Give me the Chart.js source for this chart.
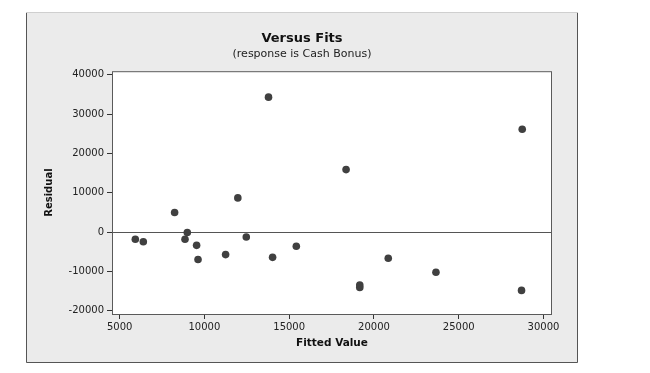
<!DOCTYPE html>
<html>
<head>
<meta charset="utf-8">
<script src="https://cdn.jsdelivr.net/npm/chart.js@4/dist/chart.umd.min.js"></script>
<style>
html,body{margin:0;padding:0;background:#fff;}
#wrap{width:650px;height:373px;position:relative;}
</style>
</head>
<body>
<div id="wrap"><canvas id="c" width="650" height="373"></canvas></div>
<script>
// Data
const fittedValues = [5926, 6397, 8243, 8991, 8856, 9540, 9623, 11250, 11971, 12470, 13781, 14021, 15420, 18355, 19163, 19163, 20843, 23656, 28744, 28703];
const residuals    = [-1800, -2450, 5000, -100, -1800, -3350, -6950, -5700, 8700, -1250, 34300, -6400, -3600, 15900, -13450, -14050, -6650, -10200, 26150, -14800];
const xTicks = [5000, 10000, 15000, 20000, 25000, 30000];
const yTicks = [-20000, -10000, 0, 10000, 20000, 30000, 40000];
const titleText = "Versus Fits";
const subtitleText = "(response is Cash Bonus)";
const xTitle = "Fitted Value";
const yTitle = "Residual";

const FONT = "'DejaVu Sans', Verdana, sans-serif";

const framePlugin = {
  id: 'frame',
  beforeDraw(chart) {
    const ctx = chart.ctx;
    ctx.save();
    ctx.fillStyle = '#ffffff';
    ctx.fillRect(0, 0, chart.width, chart.height);
    ctx.fillStyle = '#ebebeb';
    ctx.fillRect(26, 12, 552, 351);
    ctx.lineWidth = 1;
    ctx.strokeStyle = '#cfcfcf';
    ctx.beginPath(); ctx.moveTo(26, 12.5); ctx.lineTo(578, 12.5); ctx.stroke();
    ctx.strokeStyle = '#555555';
    ctx.beginPath();
    ctx.moveTo(26.5, 13); ctx.lineTo(26.5, 362.5); ctx.lineTo(577.5, 362.5); ctx.lineTo(577.5, 13);
    ctx.stroke();
    const a = chart.chartArea;
    ctx.fillStyle = '#ffffff';
    ctx.fillRect(a.left, a.top, a.right - a.left, a.bottom - a.top);
    ctx.restore();
  }
};

const refLinePlugin = {
  id: 'refline',
  beforeDatasetsDraw(chart) {
    const ctx = chart.ctx, a = chart.chartArea;
    const y = Math.round(chart.scales.y.getPixelForValue(0)) + 0.5;
    ctx.save();
    ctx.strokeStyle = '#555555';
    ctx.lineWidth = 1;
    ctx.beginPath(); ctx.moveTo(a.left, y); ctx.lineTo(a.right, y); ctx.stroke();
    ctx.strokeStyle = '#5a5a5a';
    ctx.strokeRect(a.left + 0.5, a.top + 0.5, a.right - a.left - 1, a.bottom - a.top);
    ctx.restore();
  }
};

new Chart(document.getElementById('c'), {
  type: 'scatter',
  data: {
    datasets: [{
      data: fittedValues.map((x, i) => ({x: x, y: residuals[i]})),
      backgroundColor: '#404040',
      borderColor: '#404040',
      borderWidth: 0,
      pointRadius: 3.8,
      pointHoverRadius: 3.8
    }]
  },
  options: {
    responsive: false,
    animation: false,
    events: [],
    layout: { padding: { left: 0, right: 46, top: 0, bottom: 0 } },
    plugins: {
      legend: { display: false },
      tooltip: { enabled: false },
      title: {
        display: true, text: titleText, color: '#111',
        font: { family: FONT, size: 13, weight: 'bold', lineHeight: 1.2 },
        padding: { top: 31, bottom: 0 }
      },
      subtitle: {
        display: true, text: subtitleText, color: '#222',
        font: { family: FONT, size: 11, weight: 'normal', lineHeight: 1.2 },
        padding: { top: 1, bottom: 10.4 }
      }
    },
    scales: {
      x: {
        type: 'linear', min: 4550, max: 30500,
        afterBuildTicks(s) { s.ticks = xTicks.map(v => ({value: v})); },
        afterFit(s) { s.height = 59; },
        border: { display: false },
        grid: { display: true, drawOnChartArea: false, drawTicks: true, tickLength: 5, color: '#333', tickColor: '#333' },
        ticks: { color: '#222', padding: 2, maxRotation: 0, autoSkip: false, font: { family: FONT, size: 10 }, callback: v => String(v) },
        title: { display: true, text: xTitle, color: '#111', font: { family: FONT, size: 10.5, weight: 'bold', lineHeight: 1.2 }, padding: { top: 0, bottom: 23.7 } }
      },
      y: {
        type: 'linear', min: -20800, max: 40900,
        afterBuildTicks(s) { s.ticks = yTicks.map(v => ({value: v})); },
        afterFit(s) { s.width = 112; },
        border: { display: false },
        grid: { display: true, drawOnChartArea: false, drawTicks: true, tickLength: 5, color: '#333', tickColor: '#333' },
        ticks: { color: '#222', padding: 3, autoSkip: false, font: { family: FONT, size: 10 }, callback: v => String(v) },
        title: { display: true, text: yTitle, color: '#111', font: { family: FONT, size: 10, weight: 'bold', lineHeight: 1.2 }, padding: { top: 43, bottom: 0 } }
      },
      ySpacer: {
        type: 'linear', position: 'right', display: true,
        afterFit(s) { s.width = 52; },
        border: { display: false },
        grid: { display: false },
        ticks: { display: false },
        title: { display: false }
      }
    }
  },
  plugins: [framePlugin, refLinePlugin]
});
</script>
</body>
</html>
